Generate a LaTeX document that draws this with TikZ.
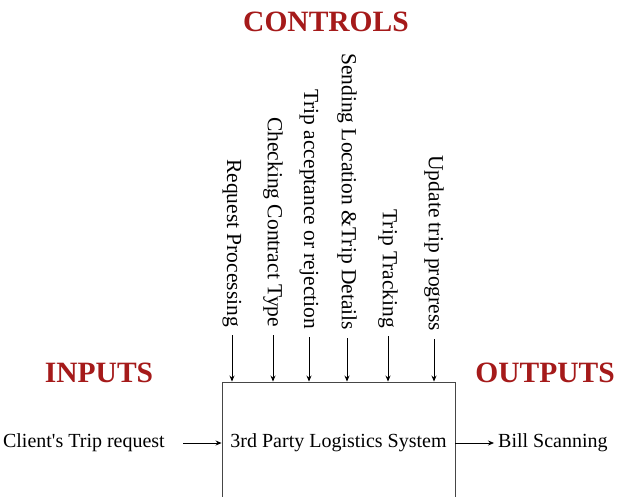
\documentclass[tikz,border=0pt]{standalone}
\usepackage{fontspec}
\setmainfont{Liberation Serif}
\usetikzlibrary{arrows.meta}
\definecolor{headred}{RGB}{165,26,26}
\definecolor{boxgray}{RGB}{70,70,70}
\begin{document}
\begin{tikzpicture}[x=1pt,y=-1pt,
  head/.style={font=\fontsize{29.5}{32}\selectfont\bfseries, text=headred, inner sep=0pt},
  ctl/.style={font=\fontsize{21.5}{24}\selectfont, rotate=-90, anchor=east, inner sep=0pt, outer sep=0pt},
  lbl/.style={font=\fontsize{20}{24}\selectfont, inner sep=0pt},
  arr/.style={-{Stealth[length=6pt,width=5pt]}, line width=0.8pt, black},
  sysbox/.style={draw=boxgray, line width=0.9pt, minimum width=233pt, minimum height=122pt, inner sep=0pt, font=\fontsize{20}{24}\selectfont}]
\useasboundingbox (0,0) rectangle (617,496);
\clip (0,0) rectangle (617,496);
\fill[white] (0,0) rectangle (617,496);
% headings
\node[head] (hc) at (326,22) {CONTROLS};
\node[head] (hi) at (99,373) {INPUTS};
\node[head] (ho) at (545,373) {OUTPUTS};
% system box
\node[sysbox] (sys) at (338.5,443) {3rd Party Logistics System};
% control labels
\node[ctl] (c1) at (232,327) {Request Processing};
\node[ctl] (c2) at (273,327) {Checking Contract Type};
\node[ctl] (c3) at (309,329) {Trip acceptance or rejection};
\node[ctl] (c4) at (347,330) {Sending Location \&Trip Details};
\node[ctl] (c5) at (388,328) {Trip Tracking};
\node[ctl] (c6) at (434,331) {Update trip progress};
\foreach \c in {c1,c2,c3,c4,c5,c6}
  \draw[arr] ([yshift=-8pt]\c.east) -- (\c.east |- sys.north);
% input and output
\node[lbl, anchor=east] (in) at (165,443) {Client\textquotesingle s Trip request};
\node[lbl, anchor=west] (out) at (498,443) {Bill Scanning};
\draw[arr] ([xshift=18pt]in.east) -- (sys.west);
\draw[arr] (sys.east) -- ([xshift=-4pt]out.west);
\end{tikzpicture}
\end{document}
